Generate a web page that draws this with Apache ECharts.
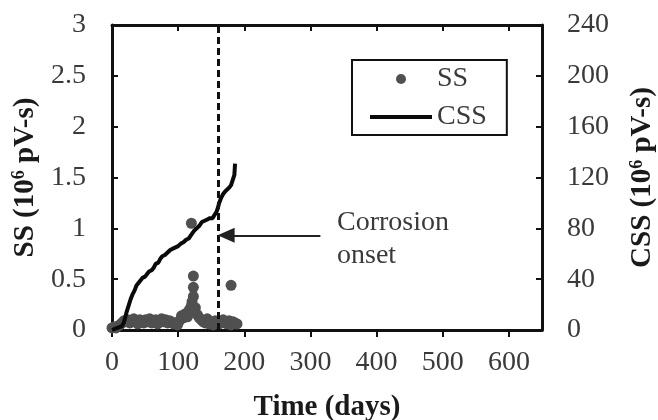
<!DOCTYPE html>
<html>
<head>
<meta charset="utf-8">
<script src="https://cdn.jsdelivr.net/npm/echarts@6/dist/echarts.min.js"></script>
<style>
html,body{margin:0;padding:0;background:#fff}
#main{width:658px;height:420px}
</style>
</head>
<body>
<div id="main"></div>
<script>
// SS readings (10^6 pV-s), one every 3 days
var ssDays=[0,3,6,9,12,15,18,21,24,27,30,33,36,39,42,45,48,51,54,57,60,63,66,69,72,75,78,81,84,87,90,93,96,99,
	102,105,108,111,114,117,120,123,126,129,132,135,138,141,144,147,150,153,156,159,162,165,168,171,174,177,180,183,186,189];
var ssVals=[0.02,0.03,0.02,0.04,0.05,0.07,0.09,0.08,0.10,0.07,0.09,0.11,0.08,0.06,0.10,0.09,0.07,0.10,0.08,0.11,0.07,0.09,0.10,0.06,
	0.09,0.11,0.08,0.10,0.07,0.09,0.08,0.06,0.07,0.05,0.09,0.14,0.12,0.16,0.13,0.20,0.24,0.18,0.22,0.15,0.12,0.10,0.08,0.07,0.11,
	0.06,0.08,0.05,0.09,0.07,0.06,0.08,0.10,0.07,0.06,0.09,0.05,0.08,0.07,0.06];
// isolated higher events
var ssPeakDays=[120,123,123,123,121,180];
var ssPeakVals=[1.05,0.53,0.42,0.33,0.28,0.44];

// cumulative SS (10^6 pV-s)
var cssDays=[0,5,10,15,18,20,22,25,28,31,34,37,40,43,46,50,53,56,60,63,66,70,73,76,80,84,88,92,96,100,
	104,108,112,116,120,124,128,132,136,140,144,148,152,155,158,160,162,165,168,171,174,177,180,183,185,186];
var cssVals=[0,1,2,3,6,10,14,19,24,28,31,35,37,39,41,42,44,46,47,49,52,53,56,58,59,61,63,64,65,66,
	68,69,71,72,75,78,80,82,85,86,87,88,88,89,93,96,100,104,107,109,110,112,114,115,122,131];

var onsetDay=160;
// arrow pointing at the onset line (days, CSS units)
var arrowFrom=[315,74.5];
var arrowTo=[172.5,74.5];

var font='Liberation Serif';
var labelColor='#3a3a3a';
var nameColor='#1a1a1a';

function pairs(xs,ys){
	var out=[];
	for(var i=0;i<xs.length;i++){
		out.push([xs[i],ys[i]]);
	}
	return out;
}

var ssData=pairs(ssDays,ssVals).concat(pairs(ssPeakDays,ssPeakVals));
var cssData=pairs(cssDays,cssVals);

function nameRich(){
	return {
		t:{fontFamily:font,fontWeight:'bold',fontSize:29,color:nameColor},
		s:{fontFamily:font,fontWeight:'bold',fontSize:18,color:nameColor,verticalAlign:'top',padding:[0,0,12,0]}
	};
}

var axisLineStyle={color:'#111',width:3};
var tickStyle={color:'#111',width:2};
var tickLabel={fontFamily:font,fontSize:28,color:labelColor};

var chart=echarts.init(document.getElementById('main'));
var option={
	animation:false,
	backgroundColor:'#fff',
	grid:{left:112,right:116,top:25,bottom:90,outerBoundsMode:'none'},
	legend:{
		orient:'vertical',
		left:352,top:60,
		padding:[5,20,4,18],
		itemGap:10,
		itemWidth:62,itemHeight:10,
		borderColor:'#111',borderWidth:2,
		textStyle:{fontFamily:font,fontSize:28,color:labelColor},
		data:[{name:'SS',icon:'circle'},{name:'CSS',icon:'path://M0,0H62V4H0Z'}]
	},
	xAxis:[{
		type:'value',min:0,max:650,interval:100,
		name:'Time (days)',nameLocation:'middle',nameGap:63,
		nameTextStyle:{fontFamily:font,fontWeight:'bold',fontSize:29,color:nameColor},
		axisLine:{onZero:false,lineStyle:axisLineStyle},
		axisTick:{inside:false,length:7,lineStyle:tickStyle},
		axisLabel:Object.assign({margin:19,showMaxLabel:false},tickLabel),
		splitLine:{show:false}
	},{
		type:'value',position:'top',min:0,max:650,interval:100,
		axisLine:{onZero:false,lineStyle:axisLineStyle},
		axisTick:{inside:true,length:6,lineStyle:tickStyle},
		axisLabel:{show:false},
		splitLine:{show:false}
	}],
	yAxis:[{
		type:'value',min:0,max:3,interval:0.5,
		name:'{t|SS (10}{s|6}{t| pV-s)}',nameLocation:'middle',nameRotate:90,nameGap:68,
		nameTextStyle:{rich:nameRich()},
		axisLine:{show:true,onZero:false,lineStyle:axisLineStyle},
		axisTick:{show:true,inside:true,length:6,lineStyle:tickStyle},
		axisLabel:Object.assign({margin:26},tickLabel),
		splitLine:{show:false}
	},{
		type:'value',min:0,max:240,interval:40,position:'right',
		name:'{t|CSS (10}{s|6}{t| pV-s)}',nameLocation:'middle',nameRotate:90,nameGap:86,
		nameTextStyle:{rich:nameRich()},
		axisLine:{show:true,onZero:false,lineStyle:axisLineStyle},
		axisTick:{show:true,inside:true,length:6,lineStyle:tickStyle},
		axisLabel:Object.assign({margin:25},tickLabel),
		splitLine:{show:false}
	}],
	series:[{
		name:'SS',type:'scatter',
		xAxisIndex:0,yAxisIndex:0,
		symbolSize:11,
		itemStyle:{color:'#505050',opacity:1},
		data:ssData
	},{
		name:'CSS',type:'line',
		xAxisIndex:0,yAxisIndex:1,
		symbol:'none',
		lineStyle:{color:'#0a0a0a',width:4},
		itemStyle:{color:'#0a0a0a'},
		data:cssData,
		markLine:{
			silent:true,
			animation:false,
			label:{show:false},
			data:[
				[{coord:[onsetDay,0],symbol:'none',lineStyle:{type:[7,4],width:3,color:'#111'}},
				 {coord:[onsetDay,240],symbol:'none'}],
				[{coord:arrowFrom,symbol:'none',lineStyle:{type:'solid',width:2,color:'#222'}},
				 {coord:arrowTo,symbol:'triangle',symbolSize:[15,17]}]
			]
		}
	}],
	graphic:[{
		type:'text',left:337,top:206,
		style:{text:'Corrosion\nonset',font:'28px "Liberation Serif"',fill:labelColor,lineHeight:33}
	}]
};
chart.setOption(option);
</script>
</body>
</html>
